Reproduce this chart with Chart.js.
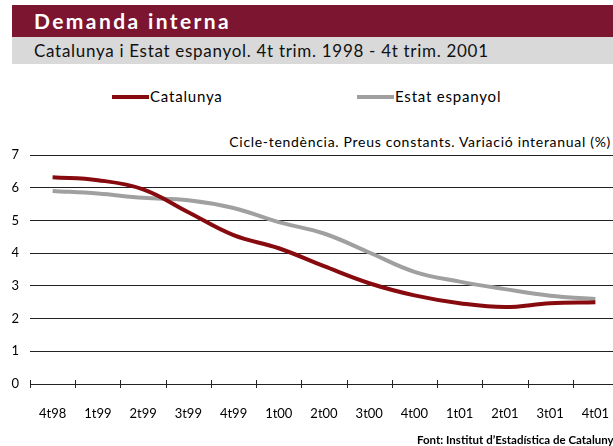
<!DOCTYPE html>
<html>
<head>
<meta charset="utf-8">
<script src="https://cdn.jsdelivr.net/npm/chart.js@4/dist/chart.umd.min.js"></script>
<style>
body{margin:0;width:613px;height:446px;overflow:hidden;background:#fff;font-family:Lato,sans-serif;position:relative}
#title{position:absolute;left:12px;top:5px;width:620px;height:32px;background:#7b1530;color:#fff;font-weight:bold;font-size:21px;letter-spacing:2.4px;line-height:32px;padding-left:22px;box-sizing:border-box}
#sub{position:absolute;left:12px;top:37px;width:620px;height:27px;background:#d9d9d9;color:#111;font-size:17px;letter-spacing:0.7px;line-height:27px;padding-left:22px;box-sizing:border-box}
.leg{position:absolute;top:87px;font-size:15px;letter-spacing:0.8px;color:#000;line-height:18px;white-space:nowrap}
.leg span{display:inline-block;width:37px;height:4px;vertical-align:middle;margin-right:1px;position:relative;top:-1px}
#note{position:absolute;right:2px;top:133px;font-size:14px;letter-spacing:0.7px;color:#000;white-space:nowrap}
#foot{position:absolute;left:417px;top:433px;font-size:11.5px;font-weight:bold;color:#000;white-space:nowrap}
#wrap{position:absolute;left:0;top:0;width:640px;height:446px}
</style>
</head>
<body>
<div id="title">Demanda interna</div>
<div id="sub">Catalunya i Estat espanyol. 4t trim. 1998 - 4t trim. 2001</div>
<div class="leg" style="left:112px"><span style="background:#870a0f"></span>Catalunya</div>
<div class="leg" style="left:357px"><span style="background:#a0a0a0"></span>Estat espanyol</div>
<div id="note">Cicle-tendència. Preus constants. Variació interanual (%)</div>
<div id="wrap"><canvas id="chart"></canvas></div>
<div id="foot">Font: Institut d’Estadística de Catalunya</div>
<script>
let quarters=['4t98','1t99','2t99','3t99','4t99','1t00','2t00','3t00','4t00','1t01','2t01','3t01','4t01'];
let catalunya=[6.32,6.23,5.95,5.25,4.55,4.15,3.6,3.08,2.71,2.47,2.35,2.47,2.5];
let estat=[5.9,5.82,5.69,5.62,5.38,4.95,4.6,4.02,3.43,3.13,2.9,2.7,2.6];
let yTicks=[0,1,2,3,4,5,6,7];

// tick marks crossing the x axis, at the category boundaries
let crossTicks={
    id:'crossTicks',
    afterDraw(chart){
        let x=chart.scales.x, ctx=chart.ctx, b=chart.chartArea.bottom;
        ctx.save();
        ctx.strokeStyle='#222';
        ctx.lineWidth=1;
        for(let i=0;i<=quarters.length;++i){
            let px=Math.round(x.getPixelForValue(i-0.5))+0.5;
            ctx.beginPath();
            ctx.moveTo(px,b-4);
            ctx.lineTo(px,b+4);
            ctx.stroke();
        }
        ctx.restore();
    }
};

new Chart('chart',{
    type:'line',
    data:{
        labels:quarters,
        datasets:[{
            label:'Catalunya',
            data:catalunya,
            borderColor:'#870a0f',
            borderWidth:4,
            pointRadius:0,
            tension:0.4
        },{
            label:'Estat espanyol',
            data:estat,
            borderColor:'#a0a0a0',
            borderWidth:4,
            pointRadius:0,
            tension:0.4
        }]
    },
    options:{
        responsive:true,
        maintainAspectRatio:false,
        animation:false,
        layout:{padding:{top:155,right:22,bottom:22,left:0}},
        plugins:{legend:{display:false},tooltip:{enabled:false}},
        scales:{
            x:{
                offset:true,
                grid:{display:false,offset:true},
                border:{display:true,color:'#222',width:1},
                ticks:{color:'#000',font:{family:'Lato',size:13},padding:14,maxRotation:0,autoSkip:false},
                afterFit(s){s.height=40;}
            },
            y:{
                min:0,max:7,
                afterBuildTicks(s){s.ticks=yTicks.map(v=>({value:v}));},
                grid:{color:'#222',lineWidth:1,drawTicks:false},
                border:{display:false},
                ticks:{color:'#000',font:{family:'Lato',size:13},padding:11},
                afterFit(s){s.width=30;}
            }
        }
    },
    plugins:[crossTicks]
});
</script>
</body>
</html>
